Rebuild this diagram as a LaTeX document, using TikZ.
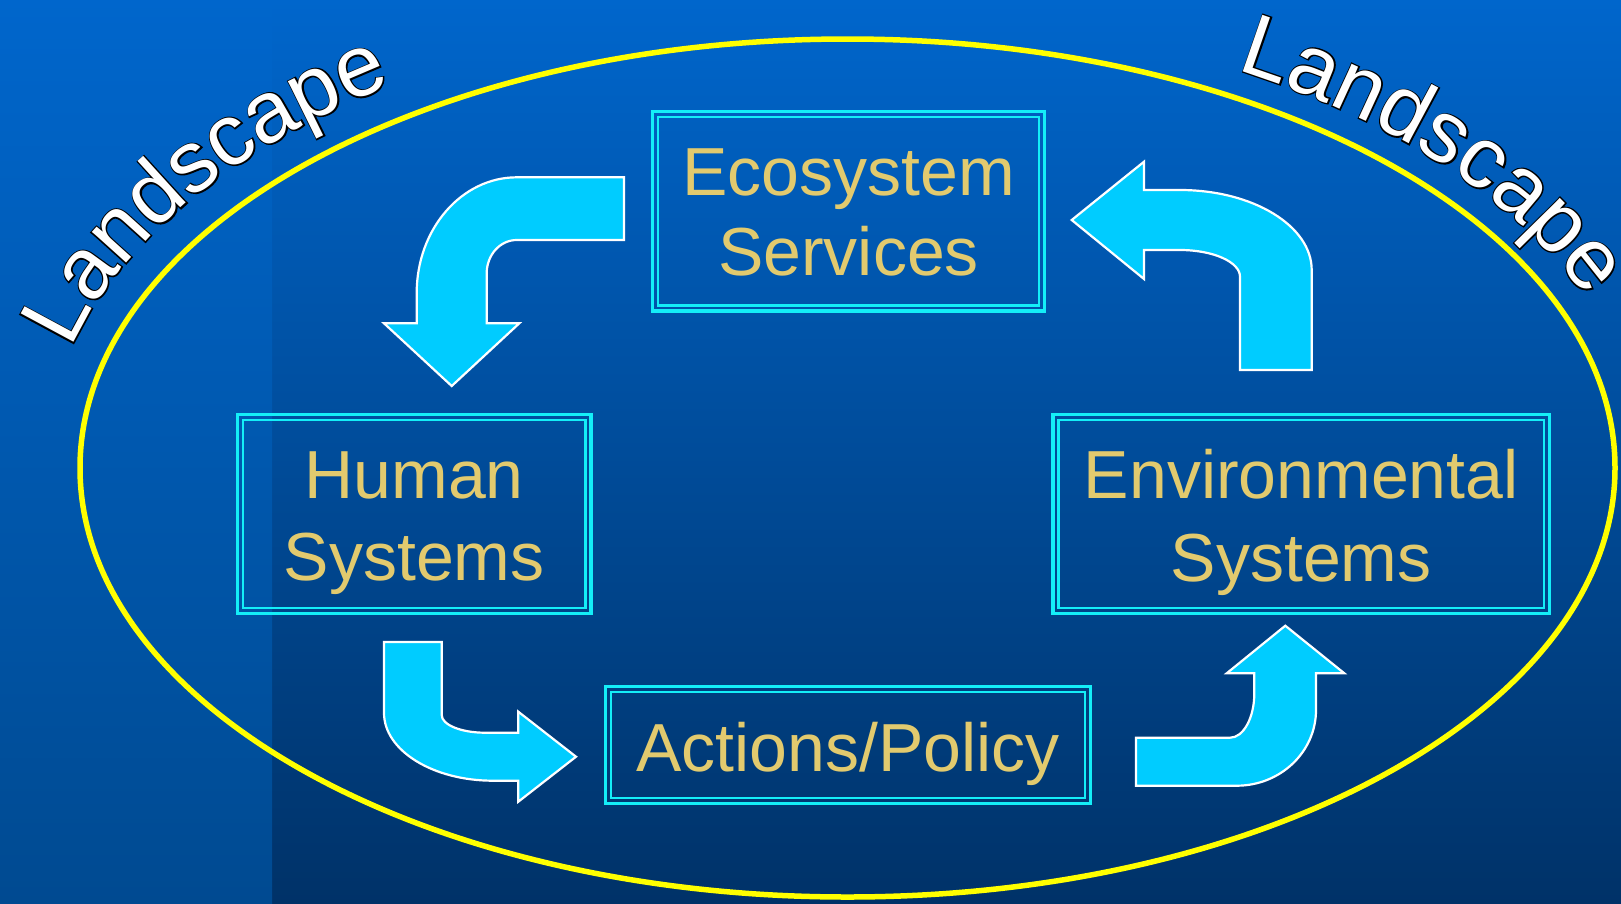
\documentclass[tikz,border=0pt]{standalone}
\usepackage{fontspec}
\usetikzlibrary{decorations.text}
\newfontfamily\lsans{Liberation Sans}
\newfontfamily\lsansstroke[FakeBold=3]{Liberation Sans}
\definecolor{bgtop}{RGB}{0,102,204}
\definecolor{bgbot}{RGB}{0,50,104}
\definecolor{striptop}{RGB}{0,102,204}
\definecolor{stripbot}{RGB}{0,74,145}
\definecolor{ringyellow}{RGB}{255,255,0}
\definecolor{framecyan}{RGB}{20,238,248}
\definecolor{labelgold}{RGB}{226,202,110}
\definecolor{arrowcyan}{RGB}{0,204,255}
\begin{document}
\begin{tikzpicture}[x=1pt,y=-1pt,
  frame/.style={draw=framecyan, line width=3.4pt, inner sep=0pt, outer sep=0pt},
  frameinner/.style={draw=framecyan, line width=2.6pt},
  lbl/.style={text=labelgold, font=\lsans\fontsize{68}{82}\selectfont, anchor=base, inner sep=0pt},
  blockarrow/.style={fill=arrowcyan, draw=white, line width=2.2pt, line join=miter},
  ring/.style={draw=ringyellow, line width=5.5pt},
]
% backdrop
\useasboundingbox (0,0) rectangle (1621,903);
\fill[top color=bgtop, bottom color=bgbot] (0,0) rectangle (1621,903);
\fill[top color=striptop, bottom color=stripbot] (0,0) rectangle (272,903);

% the landscape ring
\draw[ring] (847.5,468) ellipse [x radius=767.5, y radius=429];

% curved "Landscape" titles: dark underlay, then white letters
\path[decorate, decoration={text along path, text color=black,
    text={|\lsansstroke\fontsize{87}{87}\selectfont|Landscape}}]
  plot[domain=194.8:250, samples=80, variable=\t] ({847.5+803.5*cos(\t)},{468+465*sin(\t)});
\path[decorate, decoration={text along path, text color=white,
    text={|\lsans\fontsize{87}{87}\selectfont|Landscape}}]
  plot[domain=194.8:250, samples=80, variable=\t] ({847.5+803.5*cos(\t)},{468+465*sin(\t)});
\path[decorate, decoration={text along path, text color=black,
    text={|\lsansstroke\fontsize{87}{87}\selectfont|Landscape}}]
  plot[domain=299.3:355, samples=80, variable=\t] ({847.5+795.5*cos(\t)},{468+457*sin(\t)});
\path[decorate, decoration={text along path, text color=white,
    text={|\lsans\fontsize{87}{87}\selectfont|Landscape}}]
  plot[domain=299.3:355, samples=80, variable=\t] ({847.5+795.5*cos(\t)},{468+457*sin(\t)});

% boxes
\node[frame, minimum width=392pt, minimum height=199.5pt] (eco) at (848.5,211.2) {};
\node[frame, minimum width=353.5pt, minimum height=199pt] (human) at (414.2,514) {};
\node[frame, minimum width=496.5pt, minimum height=199pt] (env) at (1301.2,514) {};
\node[frame, minimum width=485pt, minimum height=117pt] (act) at (848,745) {};
\foreach \b in {eco,human,env,act}
  \draw[frameinner] ([shift={(5.5,5.5)}]\b.north west) rectangle ([shift={(-5.5,-5.5)}]\b.south east);

% box labels
\node[lbl] (eco1) at ([shift={(0,-16)}]eco.center) {Ecosystem};
\node[lbl] (eco2) at ([shift={(0,64)}]eco.center) {Services};
\node[lbl] (human1) at ([shift={(0,-16)}]human.center) {Human};
\node[lbl] (human2) at ([shift={(0,66)}]human.center) {Systems};
\node[lbl] (env1) at ([shift={(0,-16)}]env.center) {Environmental};
\node[lbl] (env2) at ([shift={(0,67)}]env.center) {Systems};
\node[lbl] (act1) at ([shift={(0,26)}]act.center) {Actions/Policy};

% curved block arrows of the cycle
\draw[blockarrow] (624,177.3) -- (516.7,177.3) .. controls (461.5,177.3) and (416.7,229.1) .. (416.7,293)
  -- (416.7,323.3) -- (384,323.3) -- (451.7,386) -- (519.3,323.3) -- (486.7,323.3) -- (486.7,273.3)
  .. controls (486.7,254.9) and (500.1,240) .. (516.7,240) -- (624,240) -- cycle;
\draw[blockarrow] (384,642) -- (384,713) .. controls (384,750.4) and (432.8,780.7) .. (493,780.7)
  -- (518.3,780.7) -- (518.3,801.7) -- (576,756.7) -- (518.3,711.7) -- (518.3,732.7) -- (485,732.7)
  .. controls (461.1,732.7) and (441.7,724.8) .. (441.7,715) -- (441.7,642) -- cycle;
\draw[blockarrow] (1136,737.7) -- (1230,737.7) .. controls (1243.4,737.7) and (1254.3,717.8) .. (1254.3,693.3)
  -- (1254.3,673.3) -- (1226.7,673.3) -- (1285.3,625.7) -- (1344.3,673.3) -- (1316,673.3) -- (1316,710)
  .. controls (1316,751.8) and (1280.5,785.7) .. (1236.7,785.7) -- (1136,785.7) -- cycle;
\draw[blockarrow] (1144,190) -- (1180,190) .. controls (1252.7,190) and (1311.7,225.8) .. (1311.7,270)
  -- (1311.7,370) -- (1240,370) -- (1240,276.7) .. controls (1240,262) and (1213.1,250) .. (1180,250)
  -- (1144,250) -- (1144,279) -- (1071.7,220) -- (1144,161.7) -- cycle;
\end{tikzpicture}
\end{document}
